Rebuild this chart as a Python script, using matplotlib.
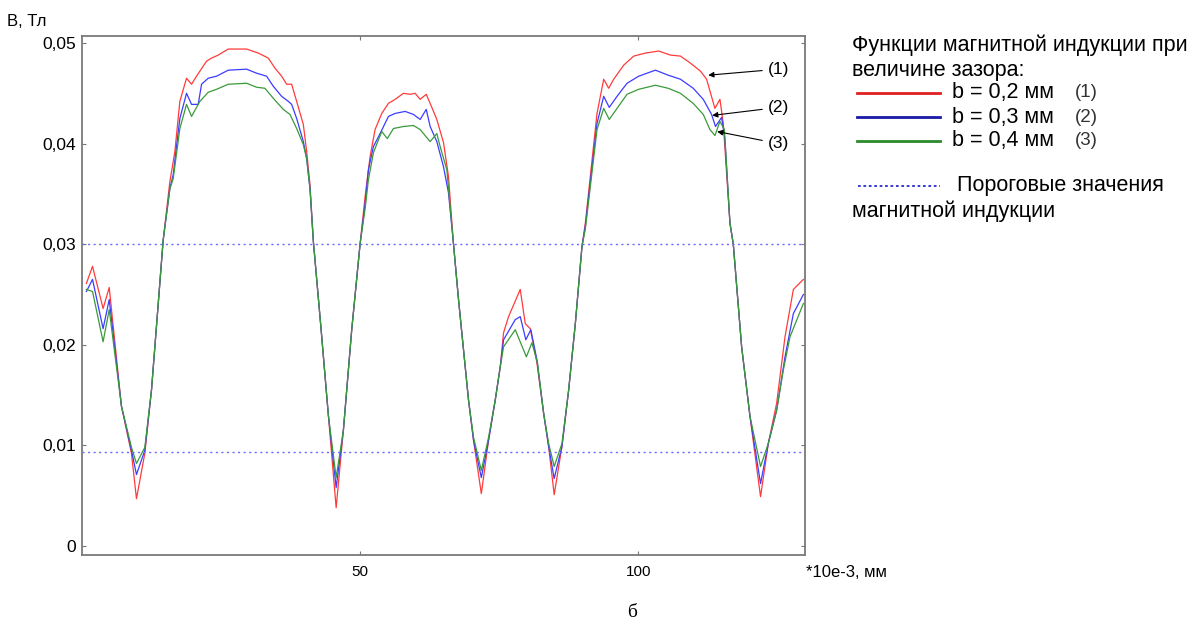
import matplotlib
matplotlib.use("Agg")
import matplotlib.pyplot as plt
from matplotlib.lines import Line2D

plt.rcParams['font.family'] = ['Liberation Sans', 'DejaVu Sans']

# --- data (x in *10e-3 mm, B in Tl) ---
x_red = [0.8, 1.9, 3.8, 4.9, 7.1, 8.9, 9.8, 11.3, 12.5, 13.7, 14.6, 15.8, 16.7, 17.6, 18.8,
         19.7, 20.6, 22.4, 23.3, 24.5, 26.3, 29.6, 31.7, 33.5, 34.7, 35.9, 36.8, 37.7, 38.6,
         39.8, 40.4, 41.0, 41.6, 43.0, 44.3, 45.7, 47.0, 48.5, 50.0, 50.9, 51.8, 52.7, 53.9,
         55.1, 56.3, 57.8, 59.0, 59.9, 60.8, 61.9, 62.6, 63.8, 65.0, 65.9, 66.8, 67.7, 68.6,
         69.5, 70.4, 71.8, 73.1, 74.3, 75.2, 75.8, 76.7, 78.8, 79.7, 80.6, 81.8, 83.0, 83.9,
         84.9, 86.3, 87.5, 88.7, 89.9, 90.5, 92.6, 93.8, 94.7, 95.6, 97.4, 99.2, 101.3, 103.7,
         105.8, 107.6, 109.4, 111.2, 112.3, 113.8, 114.7, 115.3, 116.5, 117.1, 118.6, 120.1,
         122.0, 123.4, 124.9, 126.4, 127.9, 129.7]
b_red = [0.0261, 0.0278, 0.0236, 0.0257, 0.0139, 0.0092, 0.0047, 0.0092, 0.0155, 0.0240, 0.0304,
         0.0362, 0.0392, 0.0442, 0.0465, 0.0459, 0.0467, 0.0482, 0.0485, 0.0488, 0.0494, 0.0494,
         0.0490, 0.0485, 0.0475, 0.0467, 0.0459, 0.0459, 0.0442, 0.0419, 0.0392, 0.0359, 0.0303,
         0.0215, 0.0130, 0.0038, 0.0115, 0.0215, 0.0300, 0.0347, 0.0387, 0.0414, 0.0430, 0.0440,
         0.0444, 0.0450, 0.0449, 0.0450, 0.0444, 0.0449, 0.0440, 0.0424, 0.0401, 0.0367, 0.0300,
         0.0245, 0.0195, 0.0145, 0.0105, 0.0052, 0.0105, 0.0145, 0.0178, 0.0212, 0.0228, 0.0255,
         0.0221, 0.0216, 0.0182, 0.0132, 0.0099, 0.0051, 0.0099, 0.0155, 0.0221, 0.0298, 0.0321,
         0.0430, 0.0464, 0.0455, 0.0464, 0.0478, 0.0487, 0.0490, 0.0492, 0.0488, 0.0487, 0.0480,
         0.0472, 0.0464, 0.0435, 0.0444, 0.0420, 0.0321, 0.0300, 0.0198, 0.0129, 0.0049, 0.0102,
         0.0142, 0.0208, 0.0255, 0.0265]

x_blue = [0.8, 1.9, 3.8, 4.9, 7.1, 8.9, 9.8, 11.3, 12.5, 13.7, 14.6, 15.8, 16.4, 17.6, 18.8,
          19.7, 20.9, 21.5, 22.7, 24.2, 26.3, 29.6, 31.4, 33.2, 34.4, 35.9, 37.1, 37.7, 38.6,
          39.8, 40.4, 41.0, 41.6, 43.0, 44.3, 45.7, 47.0, 48.5, 50.0, 50.9, 51.5, 52.4, 53.6,
          55.1, 56.3, 58.1, 59.6, 60.8, 61.9, 62.6, 63.8, 65.0, 65.9, 66.8, 67.7, 68.6, 69.5,
          70.4, 71.8, 73.1, 74.3, 75.2, 75.8, 77.9, 78.8, 79.8, 80.7, 81.8, 83.0, 83.9, 84.9,
          86.3, 87.5, 88.7, 89.9, 90.5, 92.6, 93.8, 94.8, 96.2, 98.0, 100.1, 103.1, 105.4,
          107.6, 109.9, 111.7, 113.2, 113.9, 115.0, 115.6, 116.5, 117.1, 118.6, 120.1, 122.0,
          123.4, 124.9, 126.4, 127.9, 129.7]
b_blue = [0.0253, 0.0265, 0.0216, 0.0245, 0.0139, 0.0095, 0.0071, 0.0095, 0.0155, 0.0240, 0.0304,
          0.0355, 0.0369, 0.0425, 0.0450, 0.0439, 0.0439, 0.0459, 0.0465, 0.0467, 0.0473, 0.0474,
          0.0470, 0.0467, 0.0457, 0.0447, 0.0442, 0.0439, 0.0425, 0.0402, 0.0385, 0.0355, 0.0303,
          0.0215, 0.0130, 0.0058, 0.0115, 0.0215, 0.0300, 0.0340, 0.0374, 0.0397, 0.0410, 0.0427,
          0.0430, 0.0432, 0.0429, 0.0424, 0.0434, 0.0417, 0.0402, 0.0377, 0.0351, 0.0300, 0.0245,
          0.0195, 0.0145, 0.0105, 0.0068, 0.0105, 0.0145, 0.0178, 0.0205, 0.0225, 0.0228, 0.0205,
          0.0215, 0.0185, 0.0132, 0.0099, 0.0067, 0.0099, 0.0155, 0.0221, 0.0298, 0.0318, 0.0420,
          0.0447, 0.0436, 0.0447, 0.0460, 0.0467, 0.0473, 0.0468, 0.0464, 0.0455, 0.0444, 0.0429,
          0.0417, 0.0426, 0.0404, 0.0321, 0.0300, 0.0198, 0.0129, 0.0062, 0.0102, 0.0135, 0.0188,
          0.0231, 0.0250]

x_green = [0.8, 1.9, 3.8, 4.9, 7.1, 8.9, 9.8, 11.3, 12.5, 13.7, 14.6, 15.8, 16.4, 17.6, 18.8,
           19.7, 21.2, 22.7, 24.2, 26.3, 29.6, 31.4, 32.9, 34.4, 36.2, 37.4, 38.6, 39.8, 40.4,
           41.0, 41.6, 43.0, 44.3, 45.7, 47.0, 48.5, 50.0, 50.9, 51.5, 52.4, 53.9, 54.9, 56.0,
           57.8, 59.6, 60.8, 62.6, 63.8, 64.4, 65.6, 66.8, 67.7, 68.6, 69.5, 70.4, 71.8, 73.1,
           74.3, 75.2, 75.8, 77.9, 79.9, 80.9, 81.9, 83.0, 83.9, 84.9, 86.3, 87.5, 88.7, 89.9,
           90.5, 92.6, 93.8, 94.8, 96.2, 98.0, 100.1, 103.1, 105.4, 107.6, 109.9, 111.7, 112.9,
           113.8, 114.7, 115.5, 116.5, 117.1, 118.6, 120.1, 122.0, 123.4, 124.9, 126.1, 127.3,
           129.7]
b_green = [0.0255, 0.0253, 0.0203, 0.0235, 0.0139, 0.0098, 0.0082, 0.0098, 0.0155, 0.0240, 0.0304,
           0.0355, 0.0365, 0.0415, 0.0439, 0.0427, 0.0442, 0.0451, 0.0454, 0.0459, 0.0460, 0.0456,
           0.0455, 0.0445, 0.0434, 0.0429, 0.0415, 0.0399, 0.0385, 0.0355, 0.0303, 0.0215, 0.0130,
           0.0068, 0.0115, 0.0215, 0.0300, 0.0335, 0.0364, 0.0391, 0.0412, 0.0405, 0.0415, 0.0417,
           0.0418, 0.0414, 0.0402, 0.0410, 0.0397, 0.0374, 0.0300, 0.0245, 0.0195, 0.0145, 0.0108,
           0.0075, 0.0108, 0.0145, 0.0178, 0.0198, 0.0215, 0.0188, 0.0202, 0.0182, 0.0132, 0.0102,
           0.0079, 0.0102, 0.0155, 0.0221, 0.0298, 0.0315, 0.0414, 0.0435, 0.0424, 0.0435, 0.0449,
           0.0454, 0.0458, 0.0455, 0.0450, 0.0440, 0.0429, 0.0414, 0.0408, 0.0422, 0.0414, 0.0321,
           0.0300, 0.0198, 0.0129, 0.0079, 0.0102, 0.0135, 0.0175, 0.0208, 0.0241]

thresholds = [0.0300, 0.0093]
y_ticks = [0, 0.01, 0.02, 0.03, 0.04, 0.05]
y_tick_labels = ['0', '0,01', '0,02', '0,03', '0,04', '0,05']
x_ticks = [50, 100]
legend_labels = ['b = 0,2 мм', 'b = 0,3 мм', 'b = 0,4 мм']
curve_marks = ['(1)', '(2)', '(3)']

c_red, c_blue, c_green, c_thr = '#ff3b3b', '#3c3cff', '#3a9a3a', '#6a6aff'

fig = plt.figure(figsize=(11.93, 6.31), dpi=100)
ax = fig.add_axes([0.0687, 0.1204, 0.6061, 0.8226])

ax.plot(x_red, b_red, color=c_red, lw=0.9)
ax.plot(x_blue, b_blue, color=c_blue, lw=0.9)
ax.plot(x_green, b_green, color=c_green, lw=0.9)
for t in thresholds:
    ax.axhline(t, color=c_thr, lw=1.0, ls=(0, (1.5, 2.5)))

ax.set_xlim(0, 130)
ax.set_ylim(-0.0009, 0.0507)
ax.set_yticks(y_ticks)
ax.set_yticklabels(y_tick_labels, fontsize=12.5)
ax.set_xticks(x_ticks)
ax.set_xticklabels([str(v) for v in x_ticks], fontsize=11)
ax.tick_params(direction='in', length=3, width=0.8, color='#777777', pad=4,
               top=True, right=True)
ax.tick_params(axis='x', pad=7)
for s in ax.spines.values():
    s.set_color('#7a7a7a')
    s.set_linewidth(1.3)

# curve marks with arrows
arrow_tips = [(112.6, 0.0468), (113.3, 0.0428), (114.2, 0.0412)]
text_pos = [(123.3, 0.0474), (123.3, 0.0436), (123.3, 0.0400)]
for lab, tip, tp in zip(curve_marks, arrow_tips, text_pos):
    ax.annotate(lab, xy=tip, xytext=tp, fontsize=12.5, ha='left', va='center',
                annotation_clip=False,
                arrowprops=dict(arrowstyle='-|>', color='black', lw=0.8,
                                mutation_scale=8, shrinkA=2, shrinkB=0))

fig.text(0.006, 0.966, 'B, Тл', fontsize=12, ha='left', va='center')
fig.text(0.676, 0.093, '*10e-3, мм', fontsize=12, ha='left', va='center')
fig.text(0.53, 0.030, 'б', fontsize=14, ha='center', va='center',
         family=['Liberation Serif', 'DejaVu Serif'])

# legend block on the right
fs = 15.5
fig.text(0.714, 0.929, 'Функции магнитной индукции при', fontsize=fs, ha='left', va='center')
fig.text(0.714, 0.889, 'величине зазора:', fontsize=fs, ha='left', va='center')
leg_colors = ['#e02020', '#1a1aa8', '#2a8a2a']
leg_y = [0.853, 0.814, 0.777]
for lab, mark, col, yy in zip(legend_labels, curve_marks, leg_colors, leg_y):
    fig.add_artist(Line2D([0.718, 0.788], [yy, yy], color=col, lw=2, transform=fig.transFigure))
    fig.text(0.798, yy, lab, fontsize=fs, ha='left', va='center')
    fig.text(0.901, yy, mark, fontsize=13.5, ha='left', va='center', color='#333333')
fig.add_artist(Line2D([0.719, 0.788], [0.706, 0.706], color='#2a2ad0', lw=1.3,
                      ls=(0, (1.5, 1.5)), transform=fig.transFigure))
fig.text(0.802, 0.706, 'Пороговые значения', fontsize=fs, ha='left', va='center')
fig.text(0.714, 0.665, 'магнитной индукции', fontsize=fs, ha='left', va='center')

fig.savefig('out.png', dpi=100)
